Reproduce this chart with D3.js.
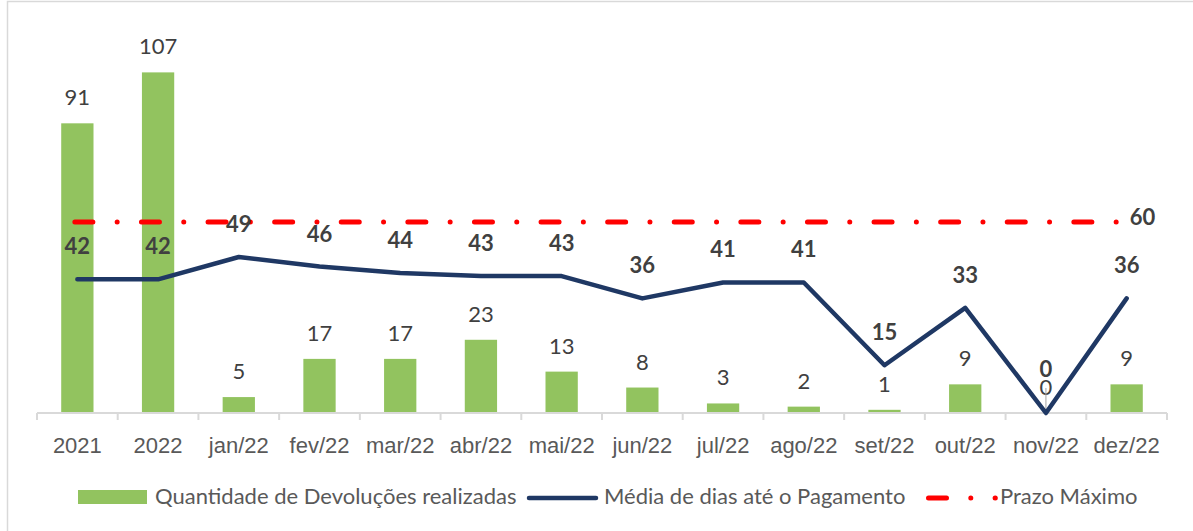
<!DOCTYPE html>
<html>
<head>
<meta charset="utf-8">
<script src="https://cdn.jsdelivr.net/npm/d3@7"></script>
<style>
  body { margin: 0; background: #fff; }
  svg { display: block; font-family: Lato, "Open Sans", sans-serif; }
</style>
</head>
<body>
<svg id="chart"></svg>
<script>
// Chart data
const categories = ["2021", "2022", "jan/22", "fev/22", "mar/22", "abr/22", "mai/22",
    "jun/22", "jul/22", "ago/22", "set/22", "out/22", "nov/22", "dez/22"];
const devolucoes = [91, 107, 5, 17, 17, 23, 13, 8, 3, 2, 1, 9, 0, 9];
const mediaDias = [42, 42, 49, 46, 44, 43, 43, 36, 41, 41, 15, 33, 0, 36];
const prazoMaximo = 60;
const legendLabels = ["Quantidade de Devoluções realizadas", "Média de dias até o Pagamento", "Prazo Máximo"];

const width = 1193, height = 531;
const margin = { top: 31, right: 26, bottom: 118, left: 37 };
const fontSize = 22;

const svg = d3.select("#chart")
    .attr("width", width)
    .attr("height", height);

// Outer chart frame
svg.append("rect")
    .attr("x", 7.5).attr("y", 1.5)
    .attr("width", width + 20).attr("height", height + 20)
    .attr("fill", "none")
    .attr("stroke", "#d9d9d9")
    .attr("stroke-width", 1.5);

// Scales
const x = d3.scaleBand()
    .domain(categories)
    .range([margin.left, width - margin.right])
    .padding(0);

const y = d3.scaleLinear()
    .domain([0, 120])
    .range([height - margin.bottom, margin.top]);

const barWidth = x.bandwidth() * 0.4;
const cx = d => x(d) + x.bandwidth() / 2;

// Bars
svg.append("g")
    .selectAll("rect")
    .data(categories)
    .enter()
    .append("rect")
    .attr("x", d => cx(d) - barWidth / 2)
    .attr("width", barWidth)
    .attr("y", (d, i) => y(devolucoes[i]))
    .attr("height", (d, i) => y(0) - y(devolucoes[i]))
    .attr("fill", "#92c35f");

// X axis
const xAxis = d3.axisBottom(x).tickSize(0).tickPadding(0);
const axisG = svg.append("g")
    .attr("transform", `translate(0, ${y(0)})`)
    .call(xAxis);
axisG.select(".domain").attr("stroke", "#d9d9d9").attr("stroke-width", 2)
    .attr("d", `M${margin.left},0H${width - margin.right}`);
axisG.selectAll(".tick text")
    .attr("y", 40)
    .attr("dy", 0)
    .attr("fill", "#595959")
    .attr("font-size", fontSize);

// Tick marks at category boundaries
const bounds = categories.map(d => x(d)).concat([x(categories[categories.length - 1]) + x.bandwidth()]);
svg.append("g")
    .selectAll("line")
    .data(bounds)
    .enter()
    .append("line")
    .attr("x1", d => d).attr("x2", d => d)
    .attr("y1", y(0)).attr("y2", y(0) + 7)
    .attr("stroke", "#d9d9d9")
    .attr("stroke-width", 2);

// Bar value labels
svg.append("g")
    .selectAll("text")
    .data(categories)
    .enter()
    .append("text")
    .attr("x", d => cx(d))
    .attr("y", (d, i) => y(devolucoes[i]) - 18)
    .attr("text-anchor", "middle")
    .attr("font-size", fontSize)
    .attr("fill", "#404040")
    .text((d, i) => devolucoes[i]);

// Leader line for the zero value
const zeroIdx = mediaDias.indexOf(0);
svg.append("line")
    .attr("x1", cx(categories[zeroIdx])).attr("x2", cx(categories[zeroIdx]))
    .attr("y1", y(0) - 25).attr("y2", y(0))
    .attr("stroke", "#a6a6a6")
    .attr("stroke-width", 1);

// Prazo Máximo reference line
const dashPattern = "18 24.3 0 24.3";
svg.append("line")
    .attr("x1", cx(categories[0]) - 2.5)
    .attr("x2", cx(categories[categories.length - 1]))
    .attr("y1", y(prazoMaximo)).attr("y2", y(prazoMaximo))
    .attr("stroke", "#ff0000")
    .attr("stroke-width", 5)
    .attr("stroke-linecap", "round")
    .attr("stroke-dasharray", dashPattern);

svg.append("text")
    .attr("x", cx(categories[categories.length - 1]) + 3)
    .attr("y", y(prazoMaximo) + 3)
    .attr("font-size", fontSize)
    .attr("font-weight", "bold")
    .attr("fill", "#404040")
    .text(prazoMaximo);

// Média de dias line
const line = d3.line()
    .x((d, i) => cx(categories[i]))
    .y(d => y(d));

svg.append("path")
    .datum(mediaDias)
    .attr("d", line)
    .attr("fill", "none")
    .attr("stroke", "#1f3864")
    .attr("stroke-width", 4.5)
    .attr("stroke-linejoin", "round")
    .attr("stroke-linecap", "round");

// Line value labels
svg.append("g")
    .selectAll("text")
    .data(mediaDias)
    .enter()
    .append("text")
    .attr("x", (d, i) => cx(categories[i]))
    .attr("y", d => d === 0 ? y(d) - 36 : y(d) - 25)
    .attr("text-anchor", "middle")
    .attr("font-size", fontSize)
    .attr("font-weight", "bold")
    .attr("fill", "#404040")
    .text(d => d);

// Legend
const legend = svg.append("g").attr("font-size", fontSize).attr("fill", "#595959");
const legendY = 497;

legend.append("rect")
    .attr("x", 78).attr("y", legendY - 7)
    .attr("width", 69).attr("height", 14)
    .attr("fill", "#92c35f");
legend.append("text").attr("x", 155).attr("y", legendY + 7).text(legendLabels[0]);

legend.append("line")
    .attr("x1", 529).attr("x2", 596)
    .attr("y1", legendY + 1).attr("y2", legendY + 1)
    .attr("stroke", "#1f3864").attr("stroke-width", 4.5)
    .attr("stroke-linecap", "round");
legend.append("text").attr("x", 604).attr("y", legendY + 7).text(legendLabels[1]);

legend.append("line")
    .attr("x1", 928.5).attr("x2", 995.3)
    .attr("y1", legendY + 1).attr("y2", legendY + 1)
    .attr("stroke", "#ff0000").attr("stroke-width", 5)
    .attr("stroke-linecap", "round")
    .attr("stroke-dasharray", dashPattern);
legend.append("text").attr("x", 1000).attr("y", legendY + 7).text(legendLabels[2]);
</script>
</body>
</html>
